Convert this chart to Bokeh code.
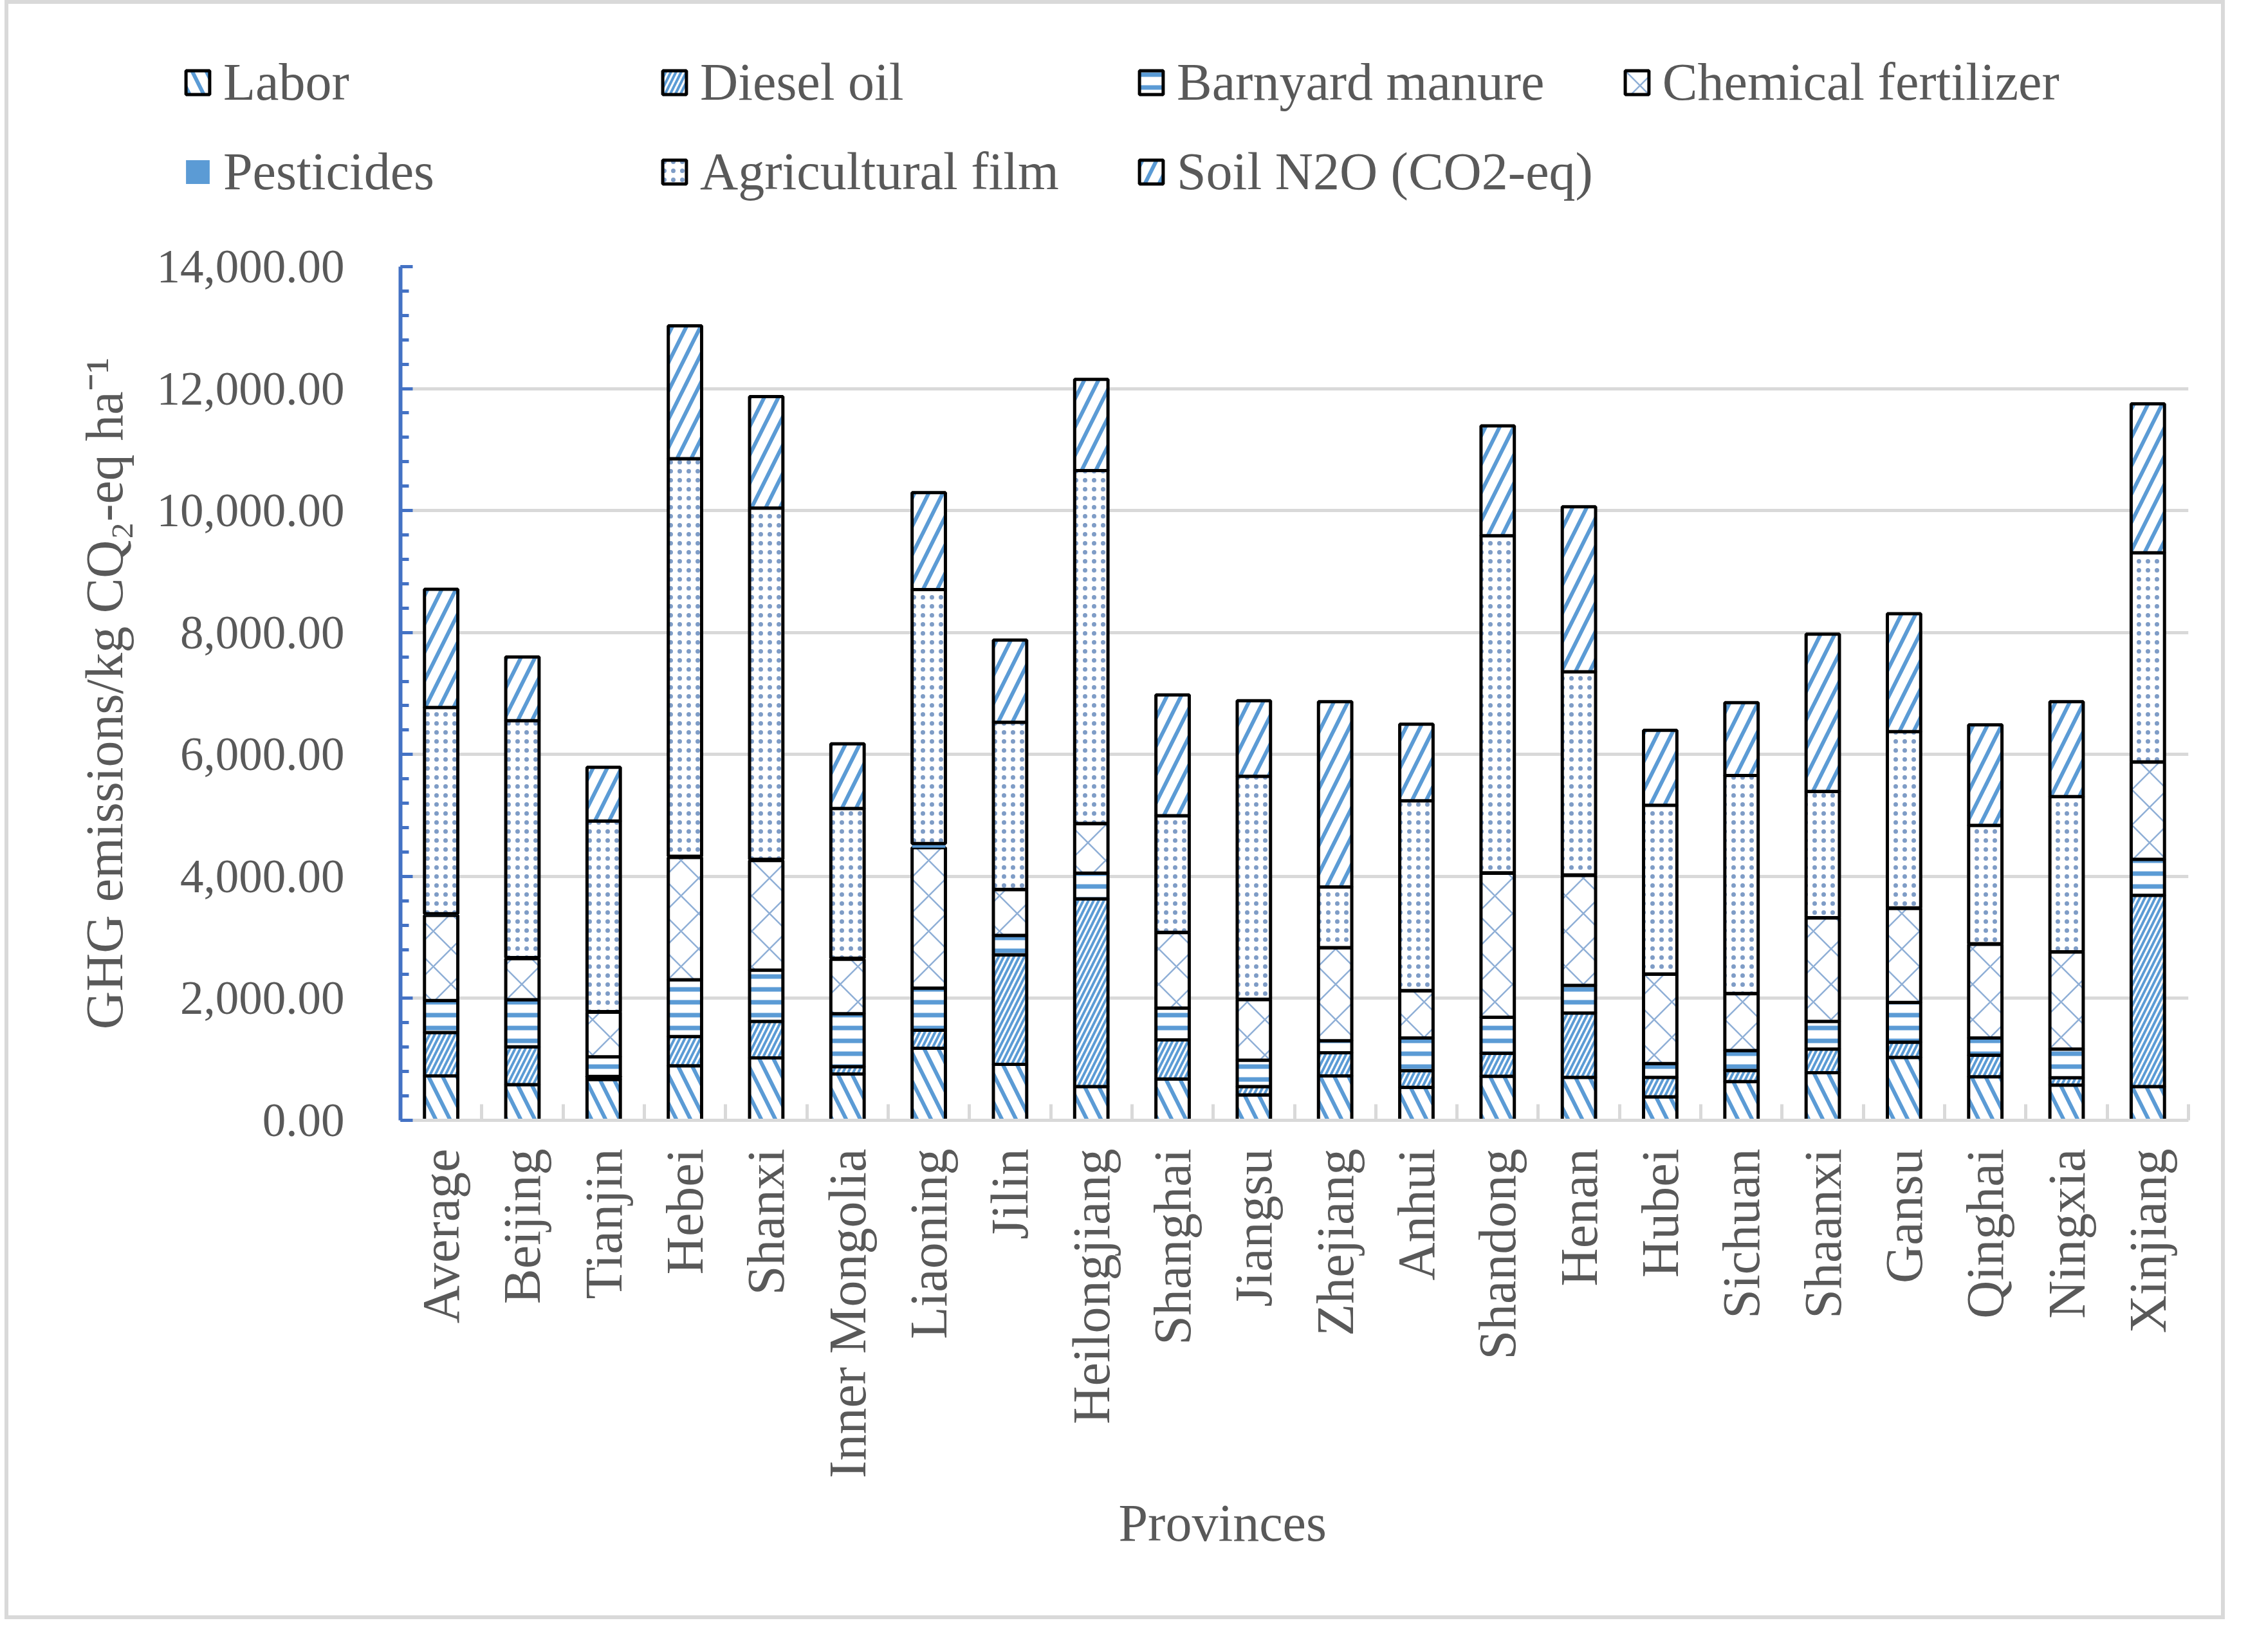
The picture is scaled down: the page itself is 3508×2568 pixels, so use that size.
import math
from bokeh.plotting import figure
from bokeh.models import (Range1d, FixedTicker, LinearAxis, Title,
                          NumeralTickFormatter, Legend, LegendItem, ColumnDataSource)
from bokeh.embed import file_html
from bokeh.resources import INLINE

provinces = ["Average", "Beijing", "Tianjin", "Hebei", "Shanxi", "Inner Mongolia", "Liaoning",
             "Jilin", "Heilongjiang", "Shanghai", "Jiangsu", "Zhejiang", "Anhui", "Shandong",
             "Henan", "Hubei", "Sichuan", "Shaanxi", "Gansu", "Qinghai", "Ningxia", "Xinjiang"]

labor       = [727, 586, 670, 895, 1023, 759, 1182, 918, 555, 677, 418, 727, 541, 723, 705, 386, 636, 782, 1032, 714, 577, 555]
diesel      = [714, 619, 50, 478, 600, 121, 295, 1796, 3077, 641, 137, 382, 273, 377, 1054, 319, 182, 386, 250, 354, 123, 3136]
manure      = [523, 772, 321, 932, 841, 870, 691, 318, 423, 523, 431, 196, 536, 591, 455, 227, 327, 455, 650, 282, 468, 591]
fertilizer  = [1396, 673, 732, 2005, 1796, 890, 2302, 750, 809, 1236, 991, 1522, 773, 2359, 1801, 1463, 932, 1695, 1541, 1536, 1591, 1591]
pesticides  = [30, 20, 10, 20, 22, 19, 70, 5, 6, 5, 10, 5, 5, 10, 10, 5, 5, 5, 10, 10, 5, 5]
film        = [3380, 3885, 3126, 6520, 5758, 2455, 4164, 2741, 5785, 1913, 3654, 995, 3113, 5527, 3331, 2768, 3573, 2072, 2893, 1941, 2546, 3429]
soil_n2o    = [1940, 1045, 881, 2180, 1830, 1061, 1590, 1347, 1495, 1982, 1239, 3038, 1254, 1803, 2706, 1227, 1195, 2578, 1933, 1650, 1555, 2444]

series_names = ["Labor", "Diesel oil", "Barnyard manure", "Chemical fertilizer",
                "Pesticides", "Agricultural film", "Soil N2O (CO2-eq)"]
stackers = ["labor", "diesel", "manure", "fertilizer", "pesticides", "film", "soil_n2o"]

y_ticks = [0, 2000, 4000, 6000, 8000, 10000, 12000, 14000]

n = len(provinces)
centers = [i + 0.5 for i in range(n)]
source = ColumnDataSource(dict(x=centers, province=provinces, labor=labor, diesel=diesel,
                               manure=manure, fertilizer=fertilizer, pesticides=pesticides,
                               film=film, soil_n2o=soil_n2o))

FONT = "Liberation Serif"
TXT = "#595959"
GRID = "#d9d9d9"
AXIS_BLUE = "#4472C4"
BLUE = "#5B9BD5"

W = 3451
LEG_H = 347
MAIN_H = 2517 - LEG_H

fills = ["white", "white", "white", "white", BLUE, "white", "white"]
lines = ["black", "black", "black", "black", None, "black", "black"]
hpat = ["\\", "/", "-", "x", None, ".", "/"]
hcol = [BLUE, BLUE, BLUE, "#8FAFD6", BLUE, "#7E9CC6", BLUE]
hscale = [44, 16, 20, 55, 12, 14, 44]
hweight = [6, 4, 7, 2.5, 1, 3, 6]

# ---------------- main chart ----------------
p = figure(width=W, height=MAIN_H, output_backend="svg", toolbar_location=None,
           x_range=Range1d(0, n), y_range=Range1d(0, 14000), x_axis_location=None,
           min_border_left=609, min_border_right=63, min_border_top=67, min_border_bottom=776)
p.styles = {"border": "6px solid #d9d9d9", "border-top": "0px", "margin-left": "7px"}
p.outline_line_color = None
p.background_fill_color = "white"
p.border_fill_color = "white"

p.yaxis.ticker = FixedTicker(ticks=y_ticks, minor_ticks=list(range(0, 14001, 400)))
p.yaxis.formatter = NumeralTickFormatter(format="0,0.00")
p.yaxis.major_label_text_font = FONT
p.yaxis.major_label_text_font_size = "73px"
p.yaxis.major_label_text_color = TXT
p.yaxis.major_label_standoff = 87
p.yaxis.axis_line_color = AXIS_BLUE
p.yaxis.axis_line_width = 6
p.yaxis.major_tick_line_color = AXIS_BLUE
p.yaxis.major_tick_line_width = 5
p.yaxis.major_tick_in = 19
p.yaxis.major_tick_out = 0
p.yaxis.minor_tick_line_color = AXIS_BLUE
p.yaxis.minor_tick_line_width = 5
p.yaxis.minor_tick_in = 13
p.yaxis.minor_tick_out = 0
p.yaxis.axis_label = "GHG emissions/kg CQ\u2082-eq ha\u207b\u00b9"
p.yaxis.axis_label_text_font = FONT
p.yaxis.axis_label_text_font_size = "82px"
p.yaxis.axis_label_text_font_style = "normal"
p.yaxis.axis_label_text_color = TXT
p.yaxis.axis_label_standoff = 33

p.ygrid.ticker = FixedTicker(ticks=y_ticks)
p.ygrid.grid_line_color = GRID
p.ygrid.grid_line_width = 5
p.xgrid.visible = False

cat_axis = LinearAxis(ticker=FixedTicker(ticks=centers, minor_ticks=list(range(n + 1))),
                      major_label_overrides={c: name for c, name in zip(centers, provinces)},
                      axis_line_color=GRID, axis_line_width=5,
                      major_tick_line_color=None,
                      minor_tick_line_color=GRID, minor_tick_line_width=5,
                      minor_tick_in=25, minor_tick_out=0,
                      major_tick_in=0, major_tick_out=0,
                      major_label_orientation=math.pi / 2,
                      major_label_text_font=FONT, major_label_text_font_size="82px",
                      major_label_text_color=TXT, major_label_standoff=44)
p.add_layout(cat_axis, "below")

p.add_layout(Title(text="Provinces", align="left", offset=1116, standoff=38,
                   text_font=FONT, text_font_size="82px", text_font_style="normal",
                   text_color=TXT), "below")

p.vbar_stack(stackers, x="x", width=0.41, source=source,
             fill_color=fills, line_color=lines, line_width=5,
             hatch_pattern=hpat, hatch_color=hcol, hatch_scale=hscale,
             hatch_weight=hweight)

# ---------------- legend strip (separate root, full-width frame) ----------------
lp = figure(width=W, height=LEG_H, output_backend="svg", toolbar_location=None,
            x_range=Range1d(0, 1), y_range=Range1d(0, 1), x_axis_location=None,
            y_axis_location=None, min_border=0)
lp.styles = {"display": "block", "border": "6px solid #d9d9d9", "border-bottom": "0px",
             "margin-left": "7px"}
lp.outline_line_color = None
lp.grid.visible = False
lp.background_fill_color = "white"
lp.border_fill_color = "white"

# legend proxies (kept outside the visible range of the strip)
proxy_src = ColumnDataSource(dict(x=[-5.0], top=[0.5]))
proxies = []
for i in range(len(series_names)):
    proxies.append(lp.vbar(x="x", top="top", width=0.5, source=proxy_src,
                           fill_color=fills[i], line_color=lines[i],
                           line_width=5, hatch_pattern=hpat[i], hatch_color=hcol[i],
                           hatch_scale=hscale[i], hatch_weight=hweight[i]))

legend = Legend(items=[LegendItem(label=nm, renderers=[r]) for nm, r in zip(series_names, proxies)],
                location=(271, 39), orientation="horizontal", ncols=4,
                label_text_font=FONT, label_text_font_size="82px", label_text_color=TXT,
                glyph_width=46, glyph_height=46, label_standoff=17,
                label_width=633, label_height=91, spacing=45, padding=0, margin=0,
                border_line_color=None, background_fill_alpha=0)
lp.add_layout(legend)

open("out.html", "w").write(file_html([lp, p], INLINE, "chart"))
